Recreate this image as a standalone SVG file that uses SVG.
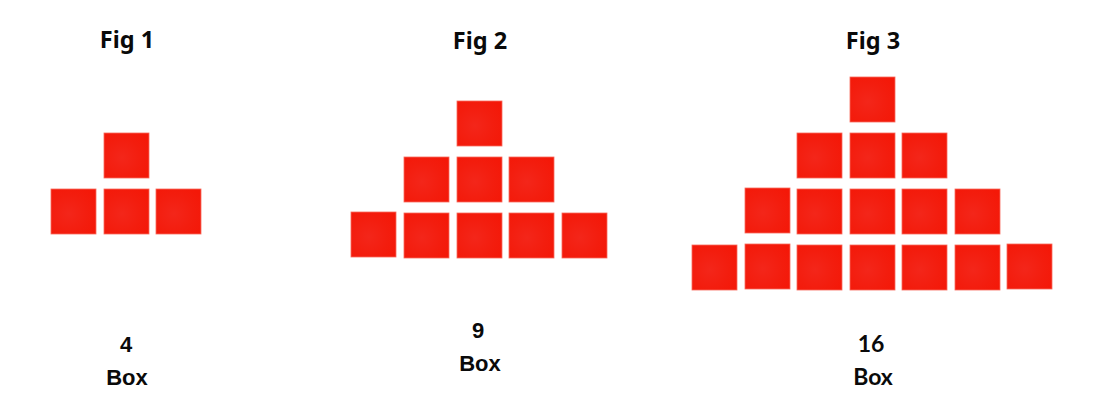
<svg xmlns="http://www.w3.org/2000/svg" width="1100" height="400" viewBox="0 0 1100 400">
<defs>
<radialGradient id="tex" cx="0.4" cy="0.55" r="0.7">
<stop offset="0" stop-color="#f3261a"/>
<stop offset="0.6" stop-color="#f31d0e"/>
<stop offset="1" stop-color="#f41808"/>
</radialGradient>
<rect id="sq" width="45" height="45"/>
</defs>
<style>
.box{fill:url(#tex);stroke:#f76a5c;stroke-width:0.8}
.title{font-family:"Noto Sans","Liberation Sans",sans-serif;font-weight:bold;font-size:23.5px;fill:#0a0a0a;text-anchor:middle}
.lbl{font-family:"Liberation Sans",Arial,sans-serif;font-weight:bold;font-size:22px;fill:#0a0a0a;text-anchor:middle}
.lbl3{font-family:Lato,"Liberation Sans",sans-serif;font-weight:bold;font-size:23px;fill:#0a0a0a;text-anchor:middle}
</style>
<rect width="1100" height="400" fill="#ffffff"/>

<g id="fig1">
<text class="title" x="127" y="48">Fig 1</text>
<use href="#sq" class="box" x="104" y="133"/>
<use href="#sq" class="box" x="51" y="189"/>
<use href="#sq" class="box" x="104" y="189"/>
<use href="#sq" class="box" x="156" y="189"/>
<text class="lbl" x="126" y="352">4</text>
<text class="lbl" x="127" y="385">Box</text>
</g>

<g id="fig2">
<text class="title" x="480" y="49">Fig 2</text>
<use href="#sq" class="box" x="457" y="101"/>
<use href="#sq" class="box" x="404" y="157"/>
<use href="#sq" class="box" x="457" y="157"/>
<use href="#sq" class="box" x="509" y="157"/>
<use href="#sq" class="box" x="351" y="212"/>
<use href="#sq" class="box" x="404" y="213"/>
<use href="#sq" class="box" x="457" y="213"/>
<use href="#sq" class="box" x="509" y="213"/>
<use href="#sq" class="box" x="562" y="213"/>
<text class="lbl" x="478" y="338">9</text>
<text class="lbl" x="480" y="371">Box</text>
</g>

<g id="fig3">
<text class="title" x="873" y="49">Fig 3</text>
<use href="#sq" class="box" x="850" y="77"/>
<use href="#sq" class="box" x="797" y="133"/>
<use href="#sq" class="box" x="850" y="133"/>
<use href="#sq" class="box" x="902" y="133"/>
<use href="#sq" class="box" x="745" y="188"/>
<use href="#sq" class="box" x="797" y="189"/>
<use href="#sq" class="box" x="850" y="189"/>
<use href="#sq" class="box" x="902" y="189"/>
<use href="#sq" class="box" x="955" y="189"/>
<use href="#sq" class="box" x="692" y="245"/>
<use href="#sq" class="box" x="745" y="244"/>
<use href="#sq" class="box" x="797" y="245"/>
<use href="#sq" class="box" x="850" y="245"/>
<use href="#sq" class="box" x="902" y="245"/>
<use href="#sq" class="box" x="955" y="245"/>
<use href="#sq" class="box" x="1007" y="244"/>
<text class="lbl3" x="871" y="352">16</text>
<text class="lbl3" x="873" y="385">Box</text>
</g>
</svg>
